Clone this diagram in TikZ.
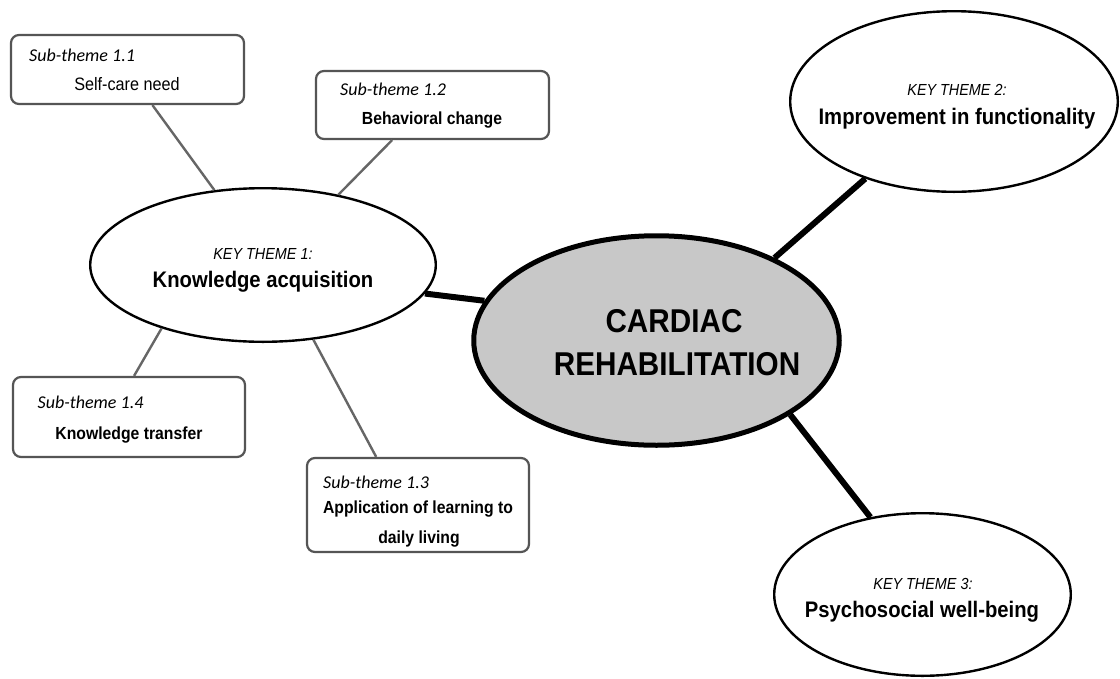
\documentclass[tikz,border=0pt]{standalone}
\usepackage{fontspec}
\setmainfont{Liberation Sans}
\newfontfamily\cond{Liberation Sans}[FakeStretch=0.9]
\newfontfamily\calib{Carlito}
\usetikzlibrary{shapes.geometric}
\definecolor{boxgray}{HTML}{555555}
\definecolor{linegray}{HTML}{666666}
\definecolor{crgray}{HTML}{C8C8C8}
\begin{document}
\begin{tikzpicture}[x=1pt,y=-1pt,
 subbox/.style={draw=boxgray, line width=2.2pt, rounded corners=8pt, fill=white, inner sep=0pt},
 kt/.style={ellipse, draw=black, line width=2.4pt, fill=white, inner sep=0pt},
 crstyle/.style={ellipse, draw=black, line width=5pt, fill=crgray, inner sep=0pt},
 subline/.style={draw=linegray, line width=2.4pt},
 thickline/.style={draw=black, line width=6pt},
 subtitle/.style={font=\calib\itshape\fontsize{18}{20}\selectfont, anchor=base west, inner sep=0pt},
 sublabel/.style={font=\cond\bfseries\fontsize{17.5}{20}\selectfont, anchor=base, inner sep=0pt},
 subplain/.style={font=\cond\fontsize{18}{20}\selectfont, anchor=base, inner sep=0pt},
 kttitle/.style={font=\cond\itshape\fontsize{16}{18}\selectfont, anchor=base, inner sep=0pt},
 ktlabel/.style={font=\cond\bfseries\fontsize{22.5}{26}\selectfont, anchor=base, inner sep=0pt},
 crlabel/.style={font=\cond\bfseries\fontsize{33}{36}\selectfont, anchor=base, inner sep=0pt}
]
\useasboundingbox (0,0) rectangle (1120,678);
\fill[white] (0,0) rectangle (1120,678);

% sub-theme boxes
\node[subbox, minimum width=233pt, minimum height=69pt] (b11) at (127.5,69.5) {};
\node[subbox, minimum width=233pt, minimum height=68pt] (b12) at (432.5,105) {};
\node[subbox, minimum width=232pt, minimum height=80pt] (b14) at (129,417) {};
\node[subbox, minimum width=222pt, minimum height=94pt] (b13) at (418,505) {};

% key theme ellipses
\node[kt, minimum width=345.6pt, minimum height=153.6pt] (kt1) at (263,265) {};
\node[kt, minimum width=327.6pt, minimum height=180.6pt] (kt2) at (954,101.5) {};
\node[kt, minimum width=296.6pt, minimum height=162.6pt] (kt3) at (922.5,594.5) {};
\node[crstyle, minimum width=365.5pt, minimum height=209.5pt] (cr) at (656.5,340.5) {};

% connectors
\draw[subline] (b11.305.7) -- (kt1.123.2);
\draw[subline] (b12.221.5) -- (kt1.43.1);
\draw[subline] (b14.83) -- (kt1.212);
\draw[subline] (b13.131.2) -- (kt1.304.2);
\draw[thickline] (kt1.350.3) -- (cr.167.9);
\draw[thickline] (kt2.221.9) -- (cr.35.1);
\draw[thickline] (cr.331.7) -- (kt3.124.1);

% box texts
\node[subtitle] (t11a) at (29,61) {Sub-theme 1.1};
\node[subplain] (t11b) at (127,90) {Self-care need};
\node[subtitle] (t12a) at (340,95) {Sub-theme 1.2};
\node[sublabel] (t12b) at (432,124) {Behavioral change};
\node[subtitle] (t14a) at (37.5,408) {Sub-theme 1.4};
\node[sublabel] (t14b) at (129,439) {Knowledge transfer};
\node[subtitle] (t13a) at (323,488) {Sub-theme 1.3};
\node[sublabel] (t13b) at (418,513) {Application of learning to};
\node[sublabel] (t13c) at (419,543) {daily living};

% ellipse texts
\node[kttitle] (k1a) at (263,259) {KEY THEME 1:};
\node[ktlabel] (k1b) at (263,287) {Knowledge acquisition};
\node[kttitle] (k2a) at (957,95) {KEY THEME 2:};
\node[ktlabel] (k2b) at (957,124) {Improvement in functionality};
\node[kttitle] (k3a) at (923,589) {KEY THEME 3:};
\node[ktlabel] (k3b) at (922,617) {Psychosocial well-being};
\node[crlabel] (c1) at (674,332) {CARDIAC};
\node[crlabel] (c2) at (677,375) {REHABILITATION};
\end{tikzpicture}
\end{document}
